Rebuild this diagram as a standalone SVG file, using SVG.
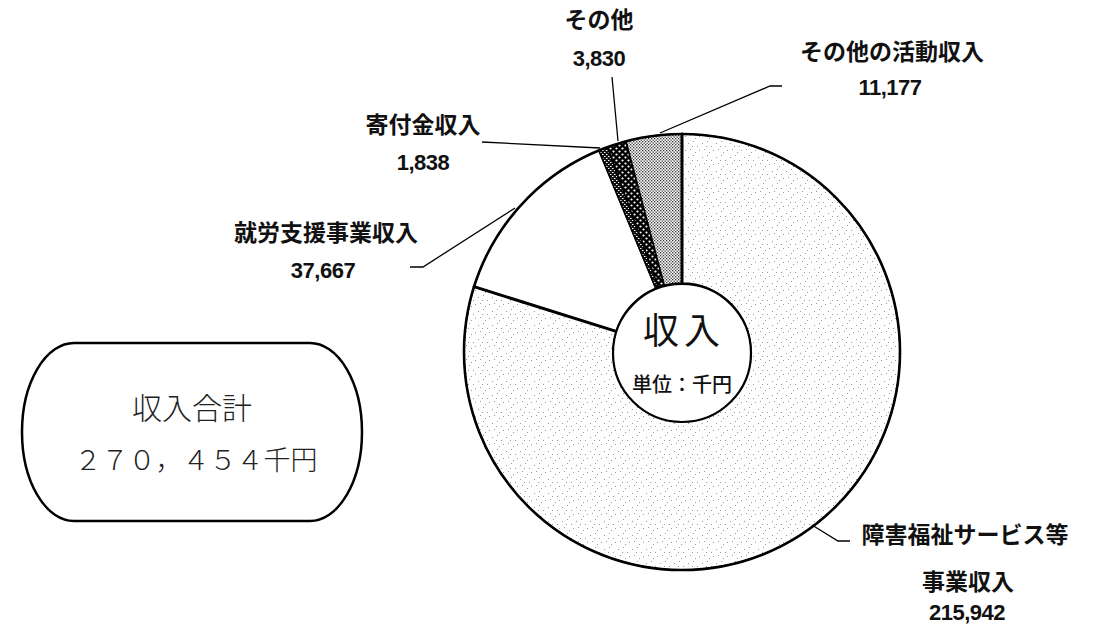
<svg xmlns="http://www.w3.org/2000/svg" width="1113" height="628" viewBox="0 0 1113 628">
<style>
.lbl{font-family:"Noto Sans CJK JP","Liberation Sans",sans-serif;font-size:23px;font-weight:700;fill:#111;text-anchor:middle}
.num{font-family:"Liberation Sans","Noto Sans CJK JP",sans-serif;font-size:22px;font-weight:700;fill:#111;text-anchor:middle;letter-spacing:-0.5px}
.slice{stroke:#000;stroke-width:1.5;stroke-linejoin:round}
.lead{fill:none;stroke:#000;stroke-width:1.3}
.thick{fill:none;stroke:#000;stroke-width:3;stroke-linecap:round}
</style>
<defs>
<pattern id="pStipple" width="14" height="14" patternUnits="userSpaceOnUse">
<rect width="14" height="14" fill="#fff"/>
<g fill="#9a9a9a">
<rect x="2" y="3" width="1" height="1"/><rect x="7" y="1" width="1" height="1"/>
<rect x="11" y="6" width="1" height="1"/><rect x="4" y="9" width="1" height="1"/>
<rect x="9" y="12" width="1" height="1"/><rect x="13" y="10" width="1" height="1"/>
<rect x="6" y="6" width="1" height="1"/>
</g>
</pattern>
<pattern id="pDash" width="4" height="4" patternUnits="userSpaceOnUse">
<rect width="4" height="4" fill="#111"/>
<rect x="0" y="0" width="1.5" height="1" fill="#fff"/>
<rect x="2" y="2" width="1.5" height="1" fill="#fff"/>
</pattern>
<pattern id="pDots" width="6" height="6" patternUnits="userSpaceOnUse">
<rect width="6" height="6" fill="#000"/>
<circle cx="1.5" cy="1.5" r="1.1" fill="#fff"/>
<circle cx="4.5" cy="4.5" r="1.1" fill="#fff"/>
</pattern>
<pattern id="pFine" width="3" height="3" patternUnits="userSpaceOnUse">
<rect width="3" height="3" fill="#fff"/>
<rect x="0" y="0" width="1.3" height="1.3" fill="#333"/>
<rect x="1.5" y="1.5" width="1.3" height="1.3" fill="#333"/>
</pattern>
</defs>
<rect width="1113" height="628" fill="#fff"/>

<g id="total-box">
<rect x="22" y="343" width="340" height="178" rx="52" ry="89" fill="#fff" stroke="#000" stroke-width="2.5"/>
<text x="192" y="419" style="font-family:'Noto Sans CJK JP',sans-serif;font-size:30px;font-weight:300;fill:#222;text-anchor:middle">収入合計</text>
<text x="196" y="470" style="font-family:'Noto Sans CJK JP',sans-serif;font-size:27px;font-weight:300;fill:#222;text-anchor:middle">２７０，４５４千円</text>
</g>

<g id="pie">
<g id="slice-shogai">
<path class="slice" fill="url(#pStipple)" d="M682,134 A218,218 0 1 1 474.02,286.67 L616.17,331.32 A69,69 0 1 0 682,283 Z"/>
</g>
<g id="slice-shuro">
<path class="slice" fill="#fff" d="M474.02,286.67 A218,218 0 0 1 598.85,150.48 L655.68,288.22 A69,69 0 0 0 616.17,331.32 Z"/>
</g>
<g id="slice-kifu">
<path class="slice" fill="url(#pDash)" d="M598.85,150.48 A218,218 0 0 1 607.51,147.12 L658.42,287.15 A69,69 0 0 0 655.68,288.22 Z"/>
</g>
<g id="slice-sonota">
<path class="slice" fill="url(#pDots)" d="M607.51,147.12 A218,218 0 0 1 626.02,141.31 L664.28,285.31 A69,69 0 0 0 658.42,287.15 Z"/>
</g>
<g id="slice-katsudo">
<path class="slice" fill="url(#pFine)" d="M626.02,141.31 A218,218 0 0 1 682,134 L682,283 A69,69 0 0 0 664.28,285.31 Z"/>
</g>
<circle cx="682" cy="352" r="218" fill="none" stroke="#000" stroke-width="2.6"/>
<line class="thick" x1="682" y1="134" x2="682" y2="283"/>
<line class="thick" x1="474.02" y1="286.67" x2="616.17" y2="331.32"/>
</g>

<g id="center">
<circle cx="682" cy="353" r="69" fill="#fff" stroke="#000" stroke-width="2.2"/>
<text x="643" y="344" style="font-family:'Noto Sans CJK JP',sans-serif;font-size:36px;font-weight:400;fill:#111;letter-spacing:5px">収入</text>
<text x="682" y="392" style="font-family:'Noto Sans CJK JP',sans-serif;font-size:20px;font-weight:500;fill:#111;text-anchor:middle">単位：千円</text>
</g>

<g id="connectors">
<polyline class="lead" points="660,133 770,86 782,86"/>
<polyline class="lead" points="612,77 618,141"/>
<polyline class="lead" points="482,142 600,148"/>
<polyline class="lead" points="410,267 423,267 515,208"/>
<polyline class="lead" points="812,525 838,541 850,541"/>
</g>

<g id="label-sonota">
<text class="lbl" x="599" y="28">その他</text>
<text class="num" x="599" y="66">3,830</text>
</g>
<g id="label-katsudo">
<text class="lbl" x="892" y="60">その他の活動収入</text>
<text class="num" x="890" y="95">11,177</text>
</g>
<g id="label-kifu">
<text class="lbl" x="423" y="133">寄付金収入</text>
<text class="num" x="423" y="170">1,838</text>
</g>
<g id="label-shuro">
<text class="lbl" x="326" y="241">就労支援事業収入</text>
<text class="num" x="323" y="278">37,667</text>
</g>
<g id="label-shogai">
<text class="lbl" x="965" y="543">障害福祉サービス等</text>
<text class="lbl" x="968" y="590">事業収入</text>
<text class="num" x="967" y="620">215,942</text>
</g>
</svg>
